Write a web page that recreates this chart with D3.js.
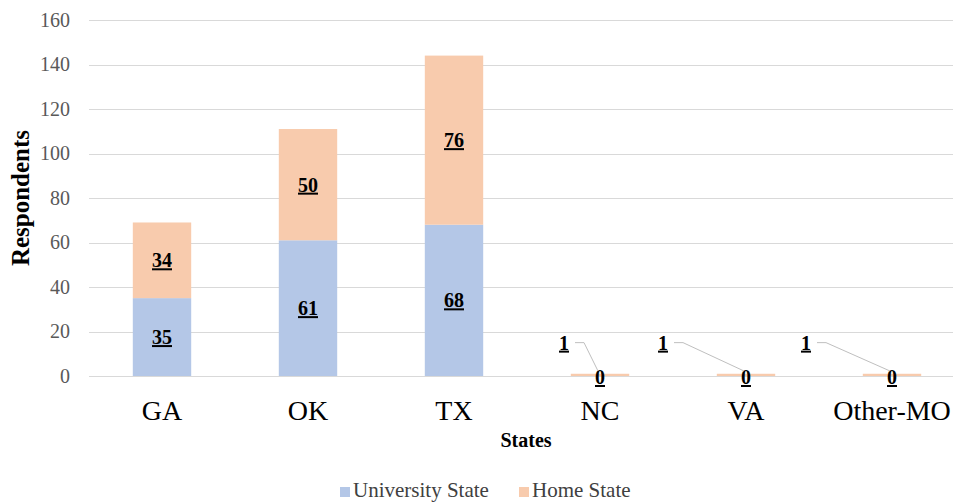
<!DOCTYPE html>
<html lang="en">
<head>
  <meta charset="UTF-8">
  <title>Respondents by State</title>
  <script src="https://d3js.org/d3.v7.min.js"></script>
  <style>
    body {
      margin: 0;
      background: #ffffff;
    }

    svg {
      display: block;
    }

    .grid line {
      stroke: #d9d9d9;
      stroke-width: 1px;
    }

    .leader {
      fill: none;
      stroke: #bfbfbf;
      stroke-width: 1px;
    }
  </style>
</head>
<body>
  <div id="chart"></div>
  <script>
    // data
    const states = ['GA', 'OK', 'TX', 'NC', 'VA', 'Other-MO'];
    const universityState = [35, 61, 68, 0, 0, 0];
    const homeState = [34, 50, 76, 1, 1, 1];
    const yTicks = [0, 20, 40, 60, 80, 100, 120, 140, 160];
    const seriesNames = ['University State', 'Home State'];
    const colors = ['#b4c7e7', '#f8cbad'];

    // where the tiny "1" labels were dragged to (shift from bar centre, px)
    const smallLabelShift = [-36, -83, -86];

    const FONT = "'Liberation Serif', 'Times New Roman', serif";

    const width = 953,
          height = 504;
    const margin = { top: 20, right: -12, bottom: 128, left: 89 };

    const svg = d3.select('#chart')
      .append('svg')
      .attr('width', width)
      .attr('height', height)
      .attr('font-family', FONT);

    const x = d3.scaleBand()
      .domain(states)
      .range([margin.left, width - margin.right])
      .paddingInner(0.6)
      .paddingOuter(0.3);

    const y = d3.scaleLinear()
      .domain([0, 160])
      .range([height - margin.bottom, margin.top]);

    // gridlines
    svg.append('g')
      .attr('class', 'grid')
      .selectAll('line')
      .data(yTicks)
      .enter().append('line')
      .attr('x1', margin.left)
      .attr('x2', width)
      .attr('y1', d => Math.round(y(d)) + 0.5)
      .attr('y2', d => Math.round(y(d)) + 0.5);

    // y axis labels
    const yAxis = d3.axisLeft(y).tickValues(yTicks).tickSize(0).tickPadding(19);
    svg.append('g')
      .attr('transform', `translate(${margin.left},0)`)
      .call(yAxis)
      .attr('font-family', FONT)
      .attr('font-size', 20)
      .call(g => g.select('.domain').remove())
      .selectAll('text')
      .attr('fill', '#595959');

    // stacked bars
    const rows = states.map((s, i) => ({ state: s, uni: universityState[i], home: homeState[i] }));
    const stacked = d3.stack().keys(['uni', 'home'])(rows);

    svg.append('g')
      .selectAll('g')
      .data(stacked)
      .enter().append('g')
      .attr('fill', (d, i) => colors[i])
      .selectAll('rect')
      .data(d => d)
      .enter().append('rect')
      .attr('x', d => x(d.data.state))
      .attr('width', x.bandwidth())
      .attr('y', d => y(d[1]))
      .attr('height', d => y(d[0]) - y(d[1]));

    // value labels
    const labels = svg.append('g')
      .attr('font-size', 20)
      .attr('font-weight', 'bold')
      .attr('text-decoration', 'underline')
      .attr('text-anchor', 'middle');
    let small = 0;
    rows.forEach((r, i) => {
      const cx = x(r.state) + x.bandwidth() / 2;
      if (r.uni > 0) {
        labels.append('text')
          .attr('x', cx)
          .attr('y', y(r.uni / 2))
          .attr('dy', '0.35em')
          .text(r.uni);
        labels.append('text')
          .attr('x', cx)
          .attr('y', y(r.uni + r.home / 2))
          .attr('dy', '0.35em')
          .text(r.home);
      } else {
        // university value sits on the base, home value pulled out with a leader
        labels.append('text')
          .attr('x', cx)
          .attr('y', y(0) + 8)
          .text(r.uni);

        const lx = cx + smallLabelShift[small++];
        const ly = y(15);
        labels.append('text')
          .attr('x', lx)
          .attr('y', ly + 7)
          .text(r.home);

        labels.append('path')
          .attr('class', 'leader')
          .attr('d', `M${lx + 11},${ly}H${lx + 20}L${cx - 2},${y(0) - 5}`);
      }
    });

    // x axis labels
    const xAxis = d3.axisBottom(x).tickSize(0).tickPadding(24);
    svg.append('g')
      .attr('transform', `translate(0,${y(0)})`)
      .call(xAxis)
      .attr('font-family', FONT)
      .attr('font-size', 28)
      .call(g => g.select('.domain').remove())
      .selectAll('text')
      .attr('fill', '#000');

    // axis titles
    svg.append('text')
      .attr('x', 526)
      .attr('y', 447)
      .attr('text-anchor', 'middle')
      .attr('font-size', 20)
      .attr('font-weight', 'bold')
      .text('States');

    svg.append('text')
      .attr('transform', `translate(29,${(y(0) + y(160)) / 2}) rotate(-90)`)
      .attr('text-anchor', 'middle')
      .attr('font-size', 25)
      .attr('font-weight', 'bold')
      .text('Respondents');

    // legend
    const legend = svg.append('g')
      .attr('transform', 'translate(340,497)');
    const legendX = [0, 179];
    seriesNames.forEach((name, i) => {
      const item = legend.append('g').attr('transform', `translate(${legendX[i]},0)`);
      item.append('rect')
        .attr('y', -10)
        .attr('width', 10)
        .attr('height', 10)
        .attr('fill', colors[i]);
      item.append('text')
        .attr('x', 13)
        .attr('font-size', 21)
        .attr('fill', '#404040')
        .text(name);
    });
  </script>
</body>
</html>
